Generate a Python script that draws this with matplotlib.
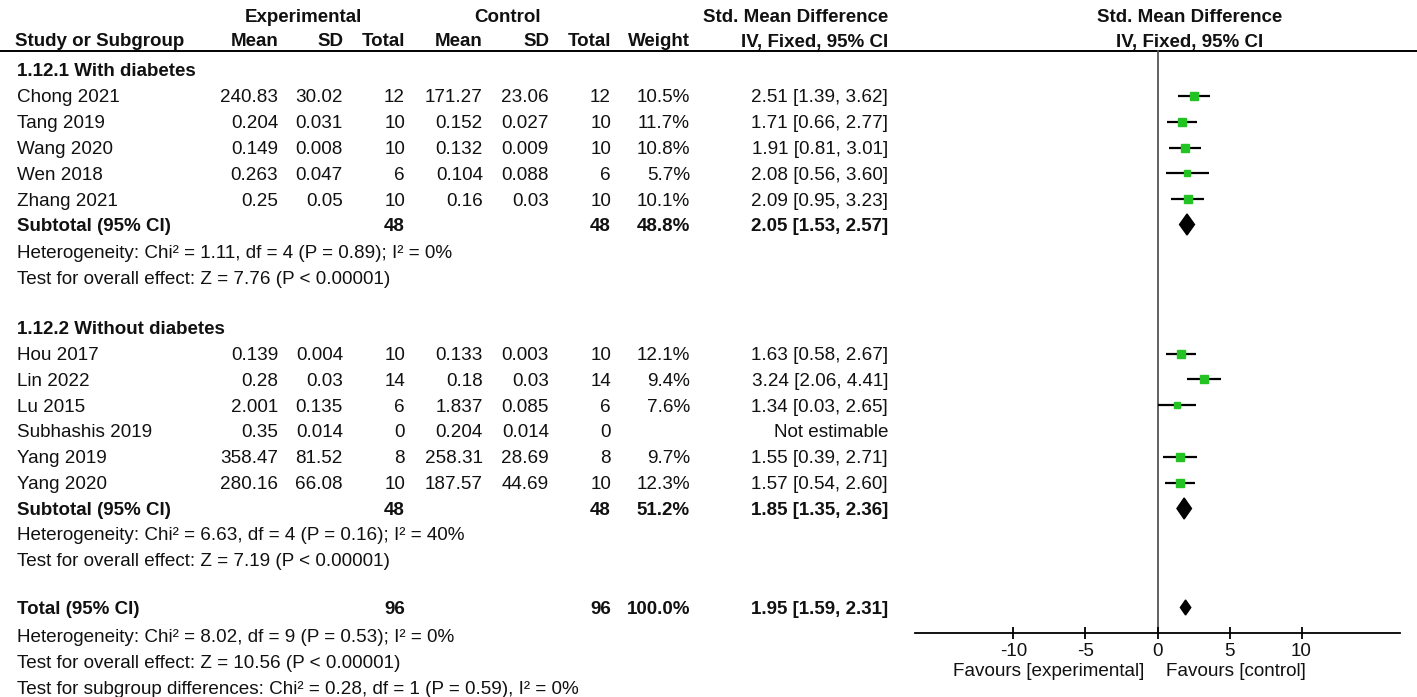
import numpy as np
import matplotlib
matplotlib.use("Agg")
import matplotlib.pyplot as plt
from matplotlib.patches import Polygon

plt.rcParams['font.family'] = ['Liberation Sans', 'DejaVu Sans']

# 1.12.1 With diabetes
studies_1 = ["Chong 2021", "Tang 2019", "Wang 2020", "Wen 2018", "Zhang 2021"]
exp_mean_1 = [240.83, 0.204, 0.149, 0.263, 0.25]
exp_sd_1 = [30.02, 0.031, 0.008, 0.047, 0.05]
exp_n_1 = [12, 10, 10, 6, 10]
ctl_mean_1 = [171.27, 0.152, 0.132, 0.104, 0.16]
ctl_sd_1 = [23.06, 0.027, 0.009, 0.088, 0.03]
ctl_n_1 = [12, 10, 10, 6, 10]
weight_1 = [10.5, 11.7, 10.8, 5.7, 10.1]
smd_1 = [2.51, 1.71, 1.91, 2.08, 2.09]
lo_1 = [1.39, 0.66, 0.81, 0.56, 0.95]
hi_1 = [3.62, 2.77, 3.01, 3.60, 3.23]

# 1.12.2 Without diabetes
studies_2 = ["Hou 2017", "Lin 2022", "Lu 2015", "Subhashis 2019", "Yang 2019", "Yang 2020"]
exp_mean_2 = [0.139, 0.28, 2.001, 0.35, 358.47, 280.16]
exp_sd_2 = [0.004, 0.03, 0.135, 0.014, 81.52, 66.08]
exp_n_2 = [10, 14, 6, 0, 8, 10]
ctl_mean_2 = [0.133, 0.18, 1.837, 0.204, 258.31, 187.57]
ctl_sd_2 = [0.003, 0.03, 0.085, 0.014, 28.69, 44.69]
ctl_n_2 = [10, 14, 6, 0, 8, 10]
weight_2 = [12.1, 9.4, 7.6, None, 9.7, 12.3]
smd_2 = [1.63, 3.24, 1.34, None, 1.55, 1.57]
lo_2 = [0.58, 2.06, 0.03, None, 0.39, 0.54]
hi_2 = [2.67, 4.41, 2.65, None, 2.71, 2.60]

# pooled results: subgroup 1, subgroup 2, overall
pooled_labels = ["Subtotal (95% CI)", "Subtotal (95% CI)", "Total (95% CI)"]
pooled_exp_n = [48, 48, 96]
pooled_ctl_n = [48, 48, 96]
pooled_weight = [48.8, 51.2, 100.0]
pooled_smd = [2.05, 1.85, 1.95]
pooled_lo = [1.53, 1.35, 1.59]
pooled_hi = [2.57, 2.36, 2.31]

het_1 = ["Heterogeneity: Chi\u00b2 = 1.11, df = 4 (P = 0.89); I\u00b2 = 0%",
         "Test for overall effect: Z = 7.76 (P < 0.00001)"]
het_2 = ["Heterogeneity: Chi\u00b2 = 6.63, df = 4 (P = 0.16); I\u00b2 = 40%",
         "Test for overall effect: Z = 7.19 (P < 0.00001)"]
het_tot = ["Heterogeneity: Chi\u00b2 = 8.02, df = 9 (P = 0.53); I\u00b2 = 0%",
           "Test for overall effect: Z = 10.56 (P < 0.00001)",
           "Test for subgroup differences: Chi\u00b2 = 0.28, df = 1 (P = 0.59), I\u00b2 = 0%"]

ticks = [-10, -5, 0, 5, 10]

FS = 13.6
FSB = 13.5
TXT = "#111111"
GREEN = "#22c322"

fig = plt.figure(figsize=(14.17, 6.97), dpi=100)
ax = fig.add_axes([0, 0, 1, 1])
ax.set_xlim(0, 1417)
ax.set_ylim(697, 0)
ax.axis("off")

# forest panel shares the pixel y scale of the table
ax2 = fig.add_axes([915 / 1417, 0, 485 / 1417, 1])
ax2.set_xlim(-16.84, 16.84)
ax2.set_ylim(697, 0)
ax2.patch.set_alpha(0)

# column right edges (pixels)
col_x = [278, 343, 405, 483, 549, 611, 690, 888]


def txt(x, y, s, ha="left", bold=False):
    ax.text(x, y + 2, s, ha=ha, va="center", color=TXT,
            fontsize=FSB if bold else FS, fontweight="bold" if bold else "normal")


# headers
txt(303, 16, "Experimental", "center", True)
txt(508, 16, "Control", "center", True)
txt(888, 16, "Std. Mean Difference", "right", True)
txt(1190, 16, "Std. Mean Difference", "center", True)
txt(15, 40, "Study or Subgroup", bold=True)
for x, h in zip(col_x, ["Mean", "SD", "Total", "Mean", "SD", "Total", "Weight", "IV, Fixed, 95% CI"]):
    txt(x, 40, h, "right", True)
txt(1190, 40, "IV, Fixed, 95% CI", "center", True)
ax.plot([0, 1417], [51, 51], color="black", lw=1.4)


def study_rows(y0, names, em, es, en, cm, cs, cn, w, smd, lo, hi):
    for i, name in enumerate(names):
        y = y0 + i * 25.8
        txt(17, y, name)
        vals = [str(em[i]), str(es[i]), str(en[i]), str(cm[i]), str(cs[i]), str(cn[i])]
        for x, v in zip(col_x[:6], vals):
            txt(x, y, v, "right")
        if smd[i] is None:
            txt(col_x[7], y, "Not estimable", "right")
            continue
        txt(col_x[6], y, f"{w[i]:.1f}%", "right")
        txt(col_x[7], y, f"{smd[i]:.2f} [{lo[i]:.2f}, {hi[i]:.2f}]", "right")
        ax2.plot([lo[i], hi[i]], [y, y], color="black", lw=1.6, solid_capstyle="butt", zorder=2)
        ax2.plot(smd[i], y, marker="s", ms=1.8 * np.sqrt(w[i]), color=GREEN,
                 mec=GREEN, zorder=3)


def pooled_row(y, k, half_h):
    txt(17, y, pooled_labels[k], bold=True)
    txt(col_x[2], y, str(pooled_exp_n[k]), "right", True)
    txt(col_x[5], y, str(pooled_ctl_n[k]), "right", True)
    txt(col_x[6], y, f"{pooled_weight[k]:.1f}%", "right", True)
    txt(col_x[7], y, f"{pooled_smd[k]:.2f} [{pooled_lo[k]:.2f}, {pooled_hi[k]:.2f}]", "right", True)
    ax2.add_patch(Polygon([(pooled_lo[k], y), (pooled_smd[k], y - half_h),
                           (pooled_hi[k], y), (pooled_smd[k], y + half_h)],
                          closed=True, color="black", zorder=3))


# subgroup 1
txt(17, 69, "1.12.1 With diabetes", bold=True)
study_rows(96, studies_1, exp_mean_1, exp_sd_1, exp_n_1, ctl_mean_1, ctl_sd_1, ctl_n_1,
           weight_1, smd_1, lo_1, hi_1)
pooled_row(224.5, 0, 10.5)
txt(17, 251, het_1[0])
txt(17, 277, het_1[1])

# subgroup 2
txt(17, 327, "1.12.2 Without diabetes", bold=True)
study_rows(353.5, studies_2, exp_mean_2, exp_sd_2, exp_n_2, ctl_mean_2, ctl_sd_2, ctl_n_2,
           weight_2, smd_2, lo_2, hi_2)
pooled_row(508.5, 1, 10.5)
txt(17, 534, het_2[0])
txt(17, 560, het_2[1])

# overall
pooled_row(607.5, 2, 7.5)
for y, s in zip([636, 662, 688], het_tot):
    txt(17, y, s)

# zero line and axis
ax2.plot([0, 0], [51, 633], color="#555555", lw=1.3, zorder=1)
for side in ["top", "left", "right"]:
    ax2.spines[side].set_visible(False)
ax2.spines["bottom"].set_position(("data", 633))
ax2.spines["bottom"].set_linewidth(1.3)
ax2.set_yticks([])
ax2.set_xticks(ticks)
ax2.set_xticklabels([str(t) for t in ticks])
ax2.tick_params(axis="x", direction="inout", length=9, width=1.3, pad=3,
                labelsize=FS, labelcolor=TXT)
ax2.text(-0.9, 672, "Favours [experimental]", ha="right", va="center", fontsize=FS, color=TXT)
ax2.text(0.6, 672, "Favours [control]", ha="left", va="center", fontsize=FS, color=TXT)

fig.savefig("out.png", dpi=100)
